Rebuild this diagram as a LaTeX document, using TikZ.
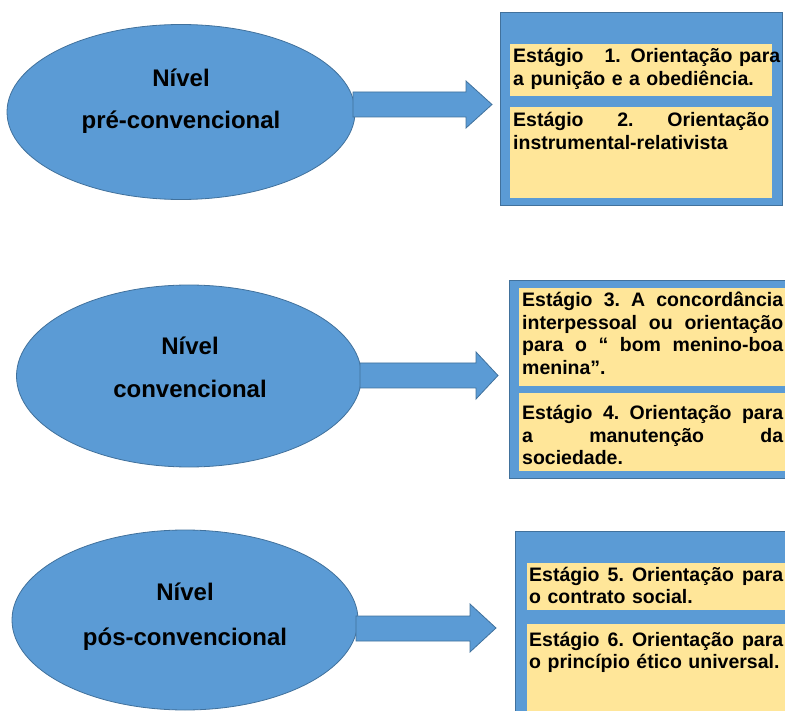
\documentclass[tikz,border=0pt]{standalone}
\usepackage{fontspec}
\setmainfont{Liberation Sans}
\usetikzlibrary{shapes.geometric}
\definecolor{blu}{HTML}{5B9BD5}
\definecolor{bluedge}{HTML}{41719C}
\definecolor{yel}{HTML}{FFE699}
\newcommand\jl[2]{\leavevmode\hbox to #1{#2}}
\begin{document}
\begin{tikzpicture}[x=1pt,y=-1pt,
  lvl/.style={ellipse, fill=blu, draw=bluedge, line width=0.8pt, inner sep=0},
  lvltext/.style={font=\fontsize{24}{28}\selectfont\bfseries, text=black, inner sep=0, anchor=base},
  outerbox/.style={fill=blu, draw=bluedge, line width=1pt, anchor=north west, inner sep=0},
  stagebg/.style={fill=yel, draw=none, anchor=north west, inner sep=0},
  stagetext/.style={font=\fontsize{19.5}{22.5}\selectfont\bfseries, align=left, inner sep=0, anchor=base west, text=black},
  barrow/.style={fill=blu, draw=bluedge, line width=0.8pt, line join=miter}]
\useasboundingbox (0,0) rectangle (785,711);

% ---------- level 1 ----------
\node[lvl, minimum width=348, minimum height=175] (e1) at (181,112) {};
\node[lvltext] (l1a) at (181,87) {Nível};
\node[lvltext] (l1b) at (181,129) {pré-convencional};
\draw[barrow] (353,92) -- (466,92) -- (466,81) -- (492,104.5) -- (466,128) -- (466,117) -- (353,117) -- cycle;
\node[outerbox, minimum width=282, minimum height=193] (b1) at (500,12) {};
\node[stagebg, minimum width=262, minimum height=52] (s1bg) at (510,44) {};
\node[stagebg, minimum width=262, minimum height=91] (s2bg) at (510,107) {};
\node[stagetext, text width=268] (s1) at (513,63) {\jl{267pt}{Estágio\hfill 1. Orientação para}\\a punição e a obediência.};
\node[stagetext, text width=258] (s2) at (513,127) {\jl{256pt}{Estágio\hfill 2.\hfill Orientação}\\instrumental-relativista};

% ---------- level 2 ----------
\node[lvl, minimum width=345, minimum height=182] (e2) at (189,376) {};
\node[lvltext] (l2a) at (190,355) {Nível};
\node[lvltext] (l2b) at (190,398) {convencional};
\draw[barrow] (360,363) -- (476,363) -- (476,352) -- (498,375.5) -- (476,399) -- (476,388) -- (360,388) -- cycle;
\node[outerbox, minimum width=280, minimum height=198] (b2) at (509,280) {};
\node[stagebg, minimum width=270, minimum height=98] (s3bg) at (519,288) {};
\node[stagebg, minimum width=270, minimum height=78] (s4bg) at (519,393) {};
\node[stagetext, text width=263] (s3) at (522,307) {\jl{261pt}{Estágio\hfill 3.\hfill A\hfill concordância}\\\jl{261pt}{interpessoal\hfill ou\hfill orientação}\\\jl{261pt}{para\hfill o\hfill “\hfill bom\hfill menino-boa}\\menina”.};
\node[stagetext, text width=263] (s4) at (522,420) {\jl{261pt}{Estágio\hfill 4.\hfill Orientação\hfill para}\\\jl{261pt}{a\hfill manutenção\hfill da}\\sociedade.};

% ---------- level 3 ----------
\node[lvl, minimum width=346, minimum height=180] (e3) at (185,620) {};
\node[lvltext] (l3a) at (185,600) {Nível};
\node[lvltext] (l3b) at (185,645) {pós-convencional};
\draw[barrow] (356,616) -- (470,616) -- (470,604) -- (496,628) -- (470,652) -- (470,641) -- (356,641) -- cycle;
\node[outerbox, minimum width=280, minimum height=190] (b3) at (515,531) {};
\node[stagebg, minimum width=265, minimum height=47] (s5bg) at (527,563) {};
\node[stagebg, minimum width=265, minimum height=95] (s6bg) at (527,624) {};
\node[stagetext, text width=256] (s5) at (529,581) {\jl{254pt}{Estágio\hfill 5.\hfill Orientação\hfill para}\\o contrato social.};
\node[stagetext, text width=256] (s6) at (529,646) {\jl{254pt}{Estágio\hfill 6.\hfill Orientação\hfill para}\\o princípio ético universal.};
\end{tikzpicture}
\end{document}
